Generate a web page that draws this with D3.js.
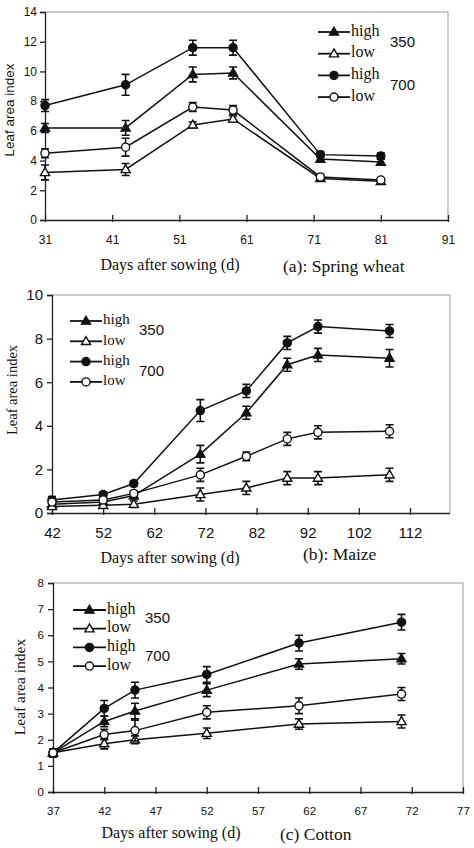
<!DOCTYPE html>
<html><head><meta charset="utf-8">
<script src="https://cdn.jsdelivr.net/npm/d3@7"></script>
<style>
html,body{margin:0;padding:0;background:#fff;}
svg{display:block;}
</style></head>
<body>
<svg id="chart" width="474" height="848"></svg>
<script>
// ---------- DATA ----------
// (a) Spring wheat
const wheatDays = [31, 43, 53, 59, 72, 81];
const wheat350High = [6.2, 6.2, 9.8, 9.9, 4.1, 3.9];
const wheat350Low  = [3.2, 3.4, 6.4, 6.8, 2.8, 2.6];
const wheat700High = [7.7, 9.1, 11.6, 11.6, 4.4, 4.3];
const wheat700Low  = [4.5, 4.9, 7.6, 7.4, 2.9, 2.7];
const wheat350HighErr = [0.3, 0.5, 0.5, 0.4, 0.2, 0.2];
const wheat350LowErr  = [0.5, 0.4, 0.2, 0.2, 0.1, 0.1];
const wheat700HighErr = [0.4, 0.7, 0.5, 0.5, 0.2, 0.2];
const wheat700LowErr  = [0.3, 0.6, 0.3, 0.3, 0.2, 0.1];
const wheatXTicks = [31, 41, 51, 61, 71, 81, 91];
const wheatYTicks = [0, 2, 4, 6, 8, 10, 12, 14];

// (b) Maize
const maizeDays = [42, 52, 58, 71, 80, 88, 94, 108];
const maize350High = [0.4, 0.5, 0.8, 2.7, 4.6, 6.8, 7.25, 7.1];
const maize350Low  = [0.3, 0.35, 0.4, 0.85, 1.15, 1.6, 1.6, 1.75];
const maize700High = [0.6, 0.85, 1.35, 4.7, 5.6, 7.8, 8.55, 8.35];
const maize700Low  = [0.5, 0.6, 0.9, 1.75, 2.6, 3.4, 3.7, 3.75];
const maize350HighErr = [0.15, 0.1, 0.15, 0.4, 0.3, 0.3, 0.3, 0.4];
const maize350LowErr  = [0.1, 0.1, 0.15, 0.3, 0.3, 0.3, 0.3, 0.3];
const maize700HighErr = [0.15, 0.1, 0.1, 0.5, 0.3, 0.3, 0.3, 0.3];
const maize700LowErr  = [0.1, 0.1, 0.1, 0.3, 0.2, 0.3, 0.3, 0.3];
const maizeXTicks = [42, 52, 62, 72, 82, 92, 102, 112];
const maizeYTicks = [0, 2, 4, 6, 8, 10];

// (c) Cotton
const cottonDays = [37, 42, 45, 52, 61, 71];
const cotton350High = [1.5, 2.7, 3.1, 3.9, 4.9, 5.1];
const cotton350Low  = [1.5, 1.85, 2.0, 2.25, 2.6, 2.7];
const cotton700High = [1.5, 3.2, 3.9, 4.5, 5.7, 6.5];
const cotton700Low  = [1.5, 2.2, 2.35, 3.05, 3.3, 3.75];
const cotton350HighErr = [0.15, 0.2, 0.3, 0.25, 0.2, 0.2];
const cotton350LowErr  = [0.15, 0.2, 0.15, 0.2, 0.2, 0.25];
const cotton700HighErr = [0.15, 0.3, 0.3, 0.3, 0.3, 0.3];
const cotton700LowErr  = [0.15, 0.2, 0.4, 0.25, 0.3, 0.25];
const cottonXTicks = [37, 42, 47, 52, 57, 62, 67, 72, 77];
const cottonYTicks = [0, 1, 2, 3, 4, 5, 6, 7, 8];

const legendLabels = ["high", "low", "high", "low"];
const co2Labels = ["350", "700"];
const yTitle = "Leaf area index";
const xTitle = "Days after sowing (d)";

// ---------- DRAW ----------
const svg = d3.select("#chart");
const SANS = "'Liberation Sans', Arial, sans-serif";
const SERIF = "'Liberation Serif', 'Times New Roman', serif";

function drawPanel(p) {
  const g = svg.append("g");
  const x = d3.scaleLinear().domain(p.xDomain).range([p.x0, p.x1]);
  const y = d3.scaleLinear().domain(p.yDomain).range([p.y0, p.y1]);

  // light frame (top and right)
  g.append("path")
    .attr("d", `M${p.x0},${p.y1}H${p.frameRight}V${p.y0}`)
    .attr("fill", "none").attr("stroke", "#999").attr("stroke-width", 1);

  // y axis
  const ya = g.append("g").attr("transform", `translate(${p.x0},0)`)
    .call(d3.axisLeft(y).tickValues(p.yTicks).tickSize(p.tickLen).tickPadding(p.yPad).tickFormat(d3.format("d")));
  ya.select(".domain").attr("stroke", "#222").attr("stroke-width", 1.3);
  ya.selectAll(".tick line").attr("stroke", "#222").attr("stroke-width", 1.3);
  ya.selectAll(".tick text").attr("font-family", SANS).attr("font-size", p.tickFont).attr("fill", "#111");

  // x axis
  const xa = g.append("g").attr("transform", `translate(0,${p.y0})`)
    .call(d3.axisBottom(x).tickValues(p.xTicks).tickSizeInner(-p.tickLen).tickSizeOuter(0).tickPadding(p.xPad).tickFormat(d3.format("d")));
  xa.select(".domain").attr("d", `M${p.x0},0.5H${p.frameRight}`).attr("stroke", "#222").attr("stroke-width", 1.3);
  xa.selectAll(".tick line").attr("stroke", "#222").attr("stroke-width", 1.3).attr("y2", -p.tickLen).attr("y1", 2);
  xa.selectAll(".tick text").attr("font-family", SANS).attr("font-size", p.tickFont).attr("fill", "#111");

  // y title
  g.append("text")
    .attr("transform", `translate(${p.yTitleX},${p.yTitleY}) rotate(-90)`)
    .attr("text-anchor", "middle").attr("dominant-baseline", "middle")
    .attr("font-family", p.yTitleFamily).attr("font-size", p.yTitleFont).attr("fill", "#111")
    .text(yTitle);

  // x title and panel caption
  g.append("text").attr("x", p.xTitleX).attr("y", p.xTitleY)
    .attr("text-anchor", "middle").attr("font-family", SERIF).attr("font-size", p.xTitleFont).attr("fill", "#111")
    .text(xTitle);
  g.append("text").attr("x", p.capX).attr("y", p.capY)
    .attr("font-family", SERIF).attr("font-size", p.capFont).attr("fill", "#111")
    .text(p.caption);

  const markerTypes = ["triFilled", "triOpen", "circFilled", "circOpen"];
  function marker(sel, type, cx, cy, s) {
    if (type.startsWith("tri")) {
      sel.append("path")
        .attr("d", d3.symbol(d3.symbolTriangle, s * s * 0.5)())
        .attr("transform", `translate(${cx},${cy + 0.5})`)
        .attr("fill", type === "triFilled" ? "#111" : "#fff")
        .attr("stroke", "#111").attr("stroke-width", 1.4);
    } else {
      sel.append("circle").attr("cx", cx).attr("cy", cy).attr("r", s / 2.1)
        .attr("fill", type === "circFilled" ? "#111" : "#fff")
        .attr("stroke", "#111").attr("stroke-width", 1.4);
    }
  }

  const line = d3.line().x(d => x(d[0])).y(d => y(d[1]));
  // lines
  p.series.forEach((s) => {
    const pts = p.days.map((d, i) => [d, s.values[i]]);
    g.append("path").attr("d", line(pts)).attr("fill", "none")
      .attr("stroke", "#111").attr("stroke-width", 1.5);
  });
  // error bars and markers
  p.series.forEach((s, k) => {
    p.days.forEach((d, i) => {
      const cx = x(d), v = s.values[i], e = s.err[i];
      const yt = y(v + e), yb = y(v - e);
      const cap = p.cap;
      g.append("path")
        .attr("d", `M${cx},${yt}V${yb}M${cx - cap},${yt}H${cx + cap}M${cx - cap},${yb}H${cx + cap}`)
        .attr("stroke", "#111").attr("stroke-width", 1.6).attr("fill", "none");
      marker(g, markerTypes[k], cx, y(v), p.mSize);
    });
  });

  // legend
  legendLabels.forEach((lab, k) => {
    const ly = p.legY + k * p.legStep;
    g.append("line").attr("x1", p.legX).attr("x2", p.legX + p.legLen)
      .attr("y1", ly).attr("y2", ly).attr("stroke", "#111").attr("stroke-width", 1.8);
    marker(g, markerTypes[k], p.legX + p.legLen / 2, ly, p.mSize);
    g.append("text").attr("x", p.legX + p.legLen + 1).attr("y", ly)
      .attr("dominant-baseline", "middle")
      .attr("font-family", SERIF).attr("font-size", p.legFont).attr("fill", "#111").text(lab);
  });
  co2Labels.forEach((lab, k) => {
    g.append("text").attr("x", p.co2X).attr("y", p.legY + p.legStep * (0.5 + 2 * k) + p.co2Dy)
      .attr("dominant-baseline", "middle")
      .attr("font-family", SANS).attr("font-size", p.co2Font).attr("fill", "#111").text(lab);
  });
}

// Panel (a)
drawPanel({
  days: wheatDays,
  series: [
    {values: wheat350High, err: wheat350HighErr},
    {values: wheat350Low, err: wheat350LowErr},
    {values: wheat700High, err: wheat700HighErr},
    {values: wheat700Low, err: wheat700LowErr}
  ],
  xDomain: [31, 91], yDomain: [0, 14], xTicks: wheatXTicks, yTicks: wheatYTicks,
  x0: 45, x1: 448, y0: 220, y1: 12, frameRight: 448,
  tickLen: 5, tickFont: 12, yPad: 3, xPad: 15,
  yTitleX: 10, yTitleY: 110, yTitleFont: 13.5, yTitleFamily: SANS,
  xTitleX: 170, xTitleY: 270, xTitleFont: 16,
  capX: 283, capY: 272, capFont: 17.5, caption: "(a): Spring wheat",
  cap: 4, mSize: 8.5,
  legX: 318, legLen: 32, legY: 32, legStep: 21.7, legFont: 16,
  co2X: 390, co2Dy: 0, co2Font: 15
});

// Panel (b)
drawPanel({
  days: maizeDays,
  series: [
    {values: maize350High, err: maize350HighErr},
    {values: maize350Low, err: maize350LowErr},
    {values: maize700High, err: maize700HighErr},
    {values: maize700Low, err: maize700LowErr}
  ],
  xDomain: [42, 112], yDomain: [0, 10], xTicks: maizeXTicks, yTicks: maizeYTicks,
  x0: 52, x1: 410, y0: 513, y1: 295, frameRight: 450,
  tickLen: 5, tickFont: 15, yPad: 4, xPad: 14,
  yTitleX: 14, yTitleY: 390, yTitleFont: 14.5, yTitleFamily: SERIF,
  xTitleX: 170, xTitleY: 563, xTitleFont: 16,
  capX: 303, capY: 560, capFont: 17.5, caption: "(b): Maize",
  cap: 4, mSize: 8.5,
  legX: 70, legLen: 32, legY: 321, legStep: 20.3, legFont: 15,
  co2X: 139, co2Dy: 0, co2Font: 15
});

// Panel (c)
drawPanel({
  days: cottonDays,
  series: [
    {values: cotton350High, err: cotton350HighErr},
    {values: cotton350Low, err: cotton350LowErr},
    {values: cotton700High, err: cotton700HighErr},
    {values: cotton700Low, err: cotton700LowErr}
  ],
  xDomain: [37, 77], yDomain: [0, 8], xTicks: cottonXTicks, yTicks: cottonYTicks,
  x0: 53, x1: 463, y0: 792, y1: 583, frameRight: 463,
  tickLen: 5, tickFont: 11.5, yPad: 4, xPad: 15,
  yTitleX: 21, yTitleY: 687, yTitleFont: 15.5, yTitleFamily: SERIF,
  xTitleX: 171, xTitleY: 838, xTitleFont: 16,
  capX: 280, capY: 840, capFont: 17.5, caption: "(c) Cotton",
  cap: 4, mSize: 8.5,
  legX: 73, legLen: 33, legY: 610, legStep: 18.7, legFont: 16,
  co2X: 145, co2Dy: 0, co2Font: 15
});
</script>
</body></html>
